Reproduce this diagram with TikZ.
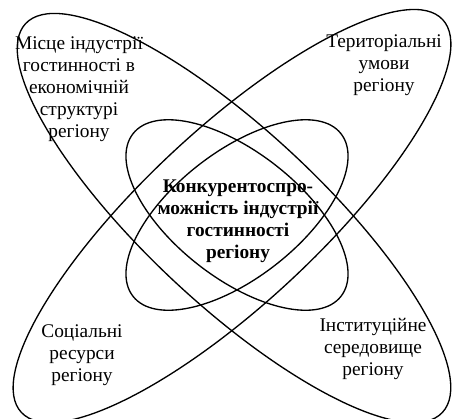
\documentclass[tikz,border=0pt]{standalone}
\usepackage{fontspec}
\setmainfont{Liberation Serif}
\begin{document}
\begin{tikzpicture}[x=0.75pt,y=-0.75pt,
    oval/.style={line width=1pt},
    lbl/.style={align=center, inner sep=0pt, font=\fontsize{14.5}{16.5}\selectfont},
    core/.style={lbl, font=\fontsize{14.5}{16.5}\selectfont\bfseries}]
    \useasboundingbox (0,0) rectangle (452,418);
    \coordinate (O1) at (234,218);
    \coordinate (O2) at (232,216);
    \coordinate (M) at (237,215);

    % grote ovalen
    \draw[oval, rotate around={-43:(O1)}] (O1) ellipse [x radius=285, y radius=87];
    \draw[oval, rotate around={43:(O2)}] (O2) ellipse [x radius=288, y radius=87];

    % kleine ovalen in het midden
    \draw[oval, rotate around={-38:(M)}] (M) ellipse [x radius=132, y radius=63];
    \draw[oval, rotate around={38:(M)}] (M) ellipse [x radius=132, y radius=63];

    \node[lbl] (misce) at (79,89) {Місце індустрії\\гостинності в\\економічній\\структурі\\регіону};
    \node[lbl] (terit) at (384,65) {Територіальні\\умови\\регіону};
    \node[lbl] (social) at (82,355) {Соціальні\\ресурси\\регіону};
    \node[lbl] (instit) at (373,349) {Інституційне\\середовище\\регіону};
    \node[core] (konk) at (238,221) {Конкурентоспро-\\можність індустрії\\гостинності\\регіону};
\end{tikzpicture}
\end{document}
